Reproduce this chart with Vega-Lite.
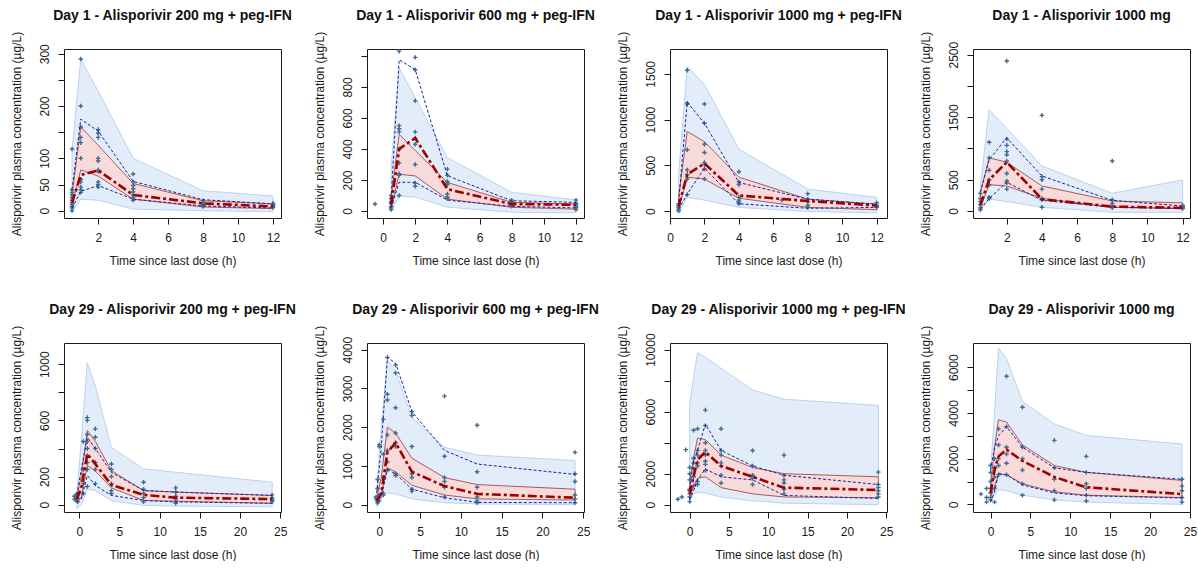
{
  "$schema": "https://vega.github.io/schema/vega-lite/v6.json",
  "padding": {"left": 9, "top": 8, "right": 0, "bottom": 0},
  "columns": 4,
  "bounds": "flush",
  "spacing": {"column": 86, "row": 125},
  "datasets": {
    "s": [
      {"p":1,"t":0.5,"lo":-2,"hi":115,"rlo":10,"rhi":30,"q5":5,"q50":15,"q95":40},
      {"p":1,"t":1,"lo":22,"hi":290,"rlo":78,"rhi":160,"q5":37,"q50":68,"q95":175},
      {"p":1,"t":2,"lo":20,"hi":228,"rlo":66,"rhi":125,"q5":48,"q50":77,"q95":152},
      {"p":1,"t":4,"lo":3,"hi":100,"rlo":22,"rhi":52,"q5":22,"q50":30,"q95":56},
      {"p":1,"t":8,"lo":0,"hi":38,"rlo":7,"rhi":19,"q5":9,"q50":14,"q95":21},
      {"p":1,"t":12,"lo":-2,"hi":28,"rlo":4,"rhi":13,"q5":5,"q50":8,"q95":13},
      {"p":2,"t":0.5,"lo":-5,"hi":280,"rlo":20,"rhi":90,"q5":20,"q50":40,"q95":80},
      {"p":2,"t":1,"lo":95,"hi":922,"rlo":237,"rhi":494,"q5":185,"q50":400,"q95":975},
      {"p":2,"t":2,"lo":90,"hi":730,"rlo":226,"rhi":391,"q5":185,"q50":470,"q95":911},
      {"p":2,"t":4,"lo":25,"hi":344,"rlo":77,"rhi":184,"q5":70,"q50":141,"q95":227},
      {"p":2,"t":8,"lo":-8,"hi":120,"rlo":24,"rhi":56,"q5":30,"q50":45,"q95":66},
      {"p":2,"t":12,"lo":-12,"hi":72,"rlo":12,"rhi":45,"q5":20,"q50":40,"q95":56},
      {"p":3,"t":0.5,"lo":-20,"hi":400,"rlo":30,"rhi":150,"q5":20,"q50":50,"q95":100},
      {"p":3,"t":1,"lo":150,"hi":1584,"rlo":370,"rhi":870,"q5":185,"q50":400,"q95":1190},
      {"p":3,"t":2,"lo":120,"hi":1384,"rlo":350,"rhi":760,"q5":470,"q50":520,"q95":960},
      {"p":3,"t":4,"lo":40,"hi":676,"rlo":140,"rhi":370,"q5":80,"q50":170,"q95":312},
      {"p":3,"t":8,"lo":-4,"hi":240,"rlo":40,"rhi":130,"q5":30,"q50":110,"q95":130},
      {"p":3,"t":12,"lo":-20,"hi":150,"rlo":15,"rhi":75,"q5":40,"q50":60,"q95":76},
      {"p":4,"t":0.5,"lo":0,"hi":400,"rlo":50,"rhi":300,"q5":30,"q50":100,"q95":300},
      {"p":4,"t":1,"lo":192,"hi":1620,"rlo":420,"rhi":850,"q5":200,"q50":500,"q95":820},
      {"p":4,"t":2,"lo":150,"hi":1322,"rlo":400,"rhi":780,"q5":460,"q50":780,"q95":1170},
      {"p":4,"t":4,"lo":60,"hi":720,"rlo":200,"rhi":400,"q5":170,"q50":190,"q95":560},
      {"p":4,"t":8,"lo":-21,"hi":283,"rlo":60,"rhi":160,"q5":60,"q50":70,"q95":170},
      {"p":4,"t":12,"lo":-20,"hi":496,"rlo":40,"rhi":130,"q5":40,"q50":50,"q95":80},
      {"p":5,"t":-0.3,"lo":-28,"hi":90,"rlo":20,"rhi":60,"q5":20,"q50":40,"q95":70},
      {"p":5,"t":0.25,"lo":0,"hi":450,"rlo":50,"rhi":200,"q5":40,"q50":120,"q95":250},
      {"p":5,"t":1,"lo":110,"hi":1010,"rlo":280,"rhi":530,"q5":208,"q50":360,"q95":480},
      {"p":5,"t":2,"lo":100,"hi":844,"rlo":240,"rhi":450,"q5":137,"q50":290,"q95":400},
      {"p":5,"t":4,"lo":30,"hi":408,"rlo":120,"rhi":243,"q5":66,"q50":140,"q95":230},
      {"p":5,"t":8,"lo":-5,"hi":255,"rlo":30,"rhi":100,"q5":30,"q50":70,"q95":101},
      {"p":5,"t":12,"lo":-10,"hi":231,"rlo":25,"rhi":90,"q5":20,"q50":50,"q95":90},
      {"p":5,"t":24,"lo":-15,"hi":160,"rlo":10,"rhi":66,"q5":10,"q50":40,"q95":66},
      {"p":6,"t":-0.3,"lo":-50,"hi":400,"rlo":50,"rhi":200,"q5":50,"q50":100,"q95":300},
      {"p":6,"t":0.25,"lo":150,"hi":2000,"rlo":300,"rhi":700,"q5":200,"q50":300,"q95":1500},
      {"p":6,"t":1,"lo":300,"hi":3740,"rlo":950,"rhi":2000,"q5":900,"q50":1350,"q95":3800},
      {"p":6,"t":2,"lo":280,"hi":3450,"rlo":850,"rhi":1850,"q5":800,"q50":1600,"q95":3650},
      {"p":6,"t":4,"lo":150,"hi":2250,"rlo":500,"rhi":1200,"q5":400,"q50":850,"q95":2400},
      {"p":6,"t":8,"lo":50,"hi":1480,"rlo":250,"rhi":700,"q5":180,"q50":480,"q95":1400},
      {"p":6,"t":12,"lo":20,"hi":1280,"rlo":150,"rhi":520,"q5":60,"q50":280,"q95":1050},
      {"p":6,"t":24,"lo":0,"hi":1140,"rlo":120,"rhi":400,"q5":50,"q50":180,"q95":780},
      {"p":7,"t":0,"lo":300,"hi":6500,"rlo":400,"rhi":1500,"q5":300,"q50":700,"q95":1000},
      {"p":7,"t":0.5,"lo":700,"hi":8200,"rlo":1200,"rhi":3000,"q5":900,"q50":1800,"q95":2800},
      {"p":7,"t":1,"lo":800,"hi":9800,"rlo":1700,"rhi":4300,"q5":1600,"q50":2900,"q95":3500},
      {"p":7,"t":2,"lo":750,"hi":9500,"rlo":1800,"rhi":4200,"q5":2300,"q50":3400,"q95":5200},
      {"p":7,"t":4,"lo":500,"hi":8800,"rlo":1100,"rhi":3200,"q5":1800,"q50":2500,"q95":3500},
      {"p":7,"t":8,"lo":250,"hi":7400,"rlo":700,"rhi":2400,"q5":1600,"q50":1800,"q95":2500},
      {"p":7,"t":12,"lo":100,"hi":6800,"rlo":500,"rhi":2000,"q5":600,"q50":1100,"q95":1900},
      {"p":7,"t":24,"lo":0,"hi":6400,"rlo":450,"rhi":1800,"q5":400,"q50":950,"q95":1300},
      {"p":8,"t":0,"lo":100,"hi":1500,"rlo":300,"rhi":800,"q5":100,"q50":500,"q95":1500},
      {"p":8,"t":0.5,"lo":400,"hi":4000,"rlo":800,"rhi":2500,"q5":550,"q50":1500,"q95":2500},
      {"p":8,"t":1,"lo":650,"hi":6830,"rlo":1300,"rhi":3700,"q5":1350,"q50":2100,"q95":3000},
      {"p":8,"t":2,"lo":600,"hi":6380,"rlo":1300,"rhi":3600,"q5":1300,"q50":2400,"q95":3400},
      {"p":8,"t":4,"lo":400,"hi":4495,"rlo":900,"rhi":2600,"q5":850,"q50":1900,"q95":2500},
      {"p":8,"t":8,"lo":200,"hi":3514,"rlo":550,"rhi":1700,"q5":500,"q50":1200,"q95":1600},
      {"p":8,"t":12,"lo":100,"hi":3017,"rlo":400,"rhi":1400,"q5":380,"q50":750,"q95":1400},
      {"p":8,"t":24,"lo":0,"hi":2640,"rlo":300,"rhi":1050,"q5":280,"q50":450,"q95":1100}
    ],
    "o": [
      {"p":1,"t":0.5,"v":0},{"p":1,"t":0.5,"v":5},{"p":1,"t":0.5,"v":8},{"p":1,"t":0.5,"v":12},{"p":1,"t":0.5,"v":15},{"p":1,"t":0.5,"v":20},{"p":1,"t":0.5,"v":25},{"p":1,"t":0.5,"v":30},{"p":1,"t":0.5,"v":35},{"p":1,"t":0.5,"v":40},{"p":1,"t":0.5,"v":118},
      {"p":1,"t":1,"v":290},{"p":1,"t":1,"v":200},{"p":1,"t":1,"v":160},{"p":1,"t":1,"v":140},{"p":1,"t":1,"v":130},{"p":1,"t":1,"v":100},{"p":1,"t":1,"v":60},{"p":1,"t":1,"v":55},{"p":1,"t":1,"v":45},{"p":1,"t":1,"v":40},{"p":1,"t":1,"v":35},
      {"p":1,"t":2,"v":155},{"p":1,"t":2,"v":148},{"p":1,"t":2,"v":140},{"p":1,"t":2,"v":100},{"p":1,"t":2,"v":95},{"p":1,"t":2,"v":78},{"p":1,"t":2,"v":75},{"p":1,"t":2,"v":55},{"p":1,"t":2,"v":50},{"p":1,"t":2,"v":45},
      {"p":1,"t":4,"v":70},{"p":1,"t":4,"v":55},{"p":1,"t":4,"v":48},{"p":1,"t":4,"v":42},{"p":1,"t":4,"v":36},{"p":1,"t":4,"v":30},{"p":1,"t":4,"v":25},{"p":1,"t":4,"v":20},
      {"p":1,"t":8,"v":19},{"p":1,"t":8,"v":15},{"p":1,"t":8,"v":12},{"p":1,"t":8,"v":10},{"p":1,"t":8,"v":8},
      {"p":1,"t":12,"v":14},{"p":1,"t":12,"v":12},{"p":1,"t":12,"v":10},{"p":1,"t":12,"v":8},{"p":1,"t":12,"v":6},
      {"p":2,"t":-0.5,"v":45},
      {"p":2,"t":0.5,"v":10},{"p":2,"t":0.5,"v":20},{"p":2,"t":0.5,"v":30},{"p":2,"t":0.5,"v":50},{"p":2,"t":0.5,"v":60},{"p":2,"t":0.5,"v":80},{"p":2,"t":0.5,"v":100},
      {"p":2,"t":1,"v":1030},{"p":2,"t":1,"v":550},{"p":2,"t":1,"v":530},{"p":2,"t":1,"v":510},{"p":2,"t":1,"v":400},{"p":2,"t":1,"v":310},{"p":2,"t":1,"v":240},{"p":2,"t":1,"v":230},{"p":2,"t":1,"v":100},
      {"p":2,"t":2,"v":990},{"p":2,"t":2,"v":910},{"p":2,"t":2,"v":710},{"p":2,"t":2,"v":510},{"p":2,"t":2,"v":470},{"p":2,"t":2,"v":430},{"p":2,"t":2,"v":300},{"p":2,"t":2,"v":180},{"p":2,"t":2,"v":160},
      {"p":2,"t":4,"v":270},{"p":2,"t":4,"v":230},{"p":2,"t":4,"v":190},{"p":2,"t":4,"v":180},{"p":2,"t":4,"v":170},{"p":2,"t":4,"v":110},{"p":2,"t":4,"v":90},{"p":2,"t":4,"v":80},
      {"p":2,"t":8,"v":70},{"p":2,"t":8,"v":60},{"p":2,"t":8,"v":50},{"p":2,"t":8,"v":40},{"p":2,"t":8,"v":35},{"p":2,"t":8,"v":30},
      {"p":2,"t":12,"v":70},{"p":2,"t":12,"v":50},{"p":2,"t":12,"v":40},{"p":2,"t":12,"v":30},{"p":2,"t":12,"v":25},{"p":2,"t":12,"v":20},{"p":2,"t":12,"v":10},
      {"p":3,"t":0.5,"v":0},{"p":3,"t":0.5,"v":20},{"p":3,"t":0.5,"v":40},{"p":3,"t":0.5,"v":60},{"p":3,"t":0.5,"v":80},
      {"p":3,"t":1,"v":1540},{"p":3,"t":1,"v":1180},{"p":3,"t":1,"v":1170},{"p":3,"t":1,"v":670},{"p":3,"t":1,"v":450},{"p":3,"t":1,"v":400},{"p":3,"t":1,"v":350},{"p":3,"t":1,"v":180},
      {"p":3,"t":2,"v":1170},{"p":3,"t":2,"v":960},{"p":3,"t":2,"v":730},{"p":3,"t":2,"v":640},{"p":3,"t":2,"v":530},{"p":3,"t":2,"v":510},{"p":3,"t":2,"v":460},{"p":3,"t":2,"v":350},
      {"p":3,"t":4,"v":430},{"p":3,"t":4,"v":320},{"p":3,"t":4,"v":290},{"p":3,"t":4,"v":150},{"p":3,"t":4,"v":120},{"p":3,"t":4,"v":100},{"p":3,"t":4,"v":80},
      {"p":3,"t":6.5,"v":120},
      {"p":3,"t":8,"v":190},{"p":3,"t":8,"v":130},{"p":3,"t":8,"v":100},{"p":3,"t":8,"v":60},{"p":3,"t":8,"v":40},
      {"p":3,"t":12,"v":90},{"p":3,"t":12,"v":60},{"p":3,"t":12,"v":50},{"p":3,"t":12,"v":40},
      {"p":4,"t":0.5,"v":20},{"p":4,"t":0.5,"v":50},{"p":4,"t":0.5,"v":100},{"p":4,"t":0.5,"v":150},{"p":4,"t":0.5,"v":200},{"p":4,"t":0.5,"v":280},
      {"p":4,"t":1,"v":1100},{"p":4,"t":1,"v":850},{"p":4,"t":1,"v":650},{"p":4,"t":1,"v":500},{"p":4,"t":1,"v":420},{"p":4,"t":1,"v":220},{"p":4,"t":1,"v":200},
      {"p":4,"t":2,"v":2400},{"p":4,"t":2,"v":1150},{"p":4,"t":2,"v":1050},{"p":4,"t":2,"v":950},{"p":4,"t":2,"v":900},{"p":4,"t":2,"v":800},{"p":4,"t":2,"v":600},{"p":4,"t":2,"v":480},{"p":4,"t":2,"v":450},{"p":4,"t":2,"v":350},
      {"p":4,"t":4,"v":1530},{"p":4,"t":4,"v":550},{"p":4,"t":4,"v":500},{"p":4,"t":4,"v":350},{"p":4,"t":4,"v":200},{"p":4,"t":4,"v":180},{"p":4,"t":4,"v":60},
      {"p":4,"t":8,"v":800},{"p":4,"t":8,"v":180},{"p":4,"t":8,"v":120},{"p":4,"t":8,"v":80},{"p":4,"t":8,"v":50},
      {"p":4,"t":12,"v":90},{"p":4,"t":12,"v":70},{"p":4,"t":12,"v":60},{"p":4,"t":12,"v":40},
      {"p":5,"t":-0.6,"v":40},{"p":5,"t":-0.6,"v":60},{"p":5,"t":-0.4,"v":30},{"p":5,"t":-0.4,"v":70},{"p":5,"t":-0.4,"v":50},{"p":5,"t":-0.2,"v":20},{"p":5,"t":-0.2,"v":80},{"p":5,"t":-0.2,"v":45},
      {"p":5,"t":0.5,"v":80},{"p":5,"t":0.5,"v":150},{"p":5,"t":0.5,"v":250},{"p":5,"t":0.5,"v":450},
      {"p":5,"t":1,"v":620},{"p":5,"t":1,"v":600},{"p":5,"t":1,"v":500},{"p":5,"t":1,"v":450},{"p":5,"t":1,"v":400},{"p":5,"t":1,"v":350},{"p":5,"t":1,"v":300},{"p":5,"t":1,"v":250},{"p":5,"t":1,"v":130},
      {"p":5,"t":2,"v":540},{"p":5,"t":2,"v":480},{"p":5,"t":2,"v":400},{"p":5,"t":2,"v":300},{"p":5,"t":2,"v":250},{"p":5,"t":2,"v":150},
      {"p":5,"t":4,"v":290},{"p":5,"t":4,"v":250},{"p":5,"t":4,"v":200},{"p":5,"t":4,"v":150},{"p":5,"t":4,"v":100},{"p":5,"t":4,"v":80},
      {"p":5,"t":8,"v":160},{"p":5,"t":8,"v":110},{"p":5,"t":8,"v":80},{"p":5,"t":8,"v":50},{"p":5,"t":8,"v":20},
      {"p":5,"t":12,"v":120},{"p":5,"t":12,"v":90},{"p":5,"t":12,"v":60},{"p":5,"t":12,"v":40},{"p":5,"t":12,"v":20},{"p":5,"t":12,"v":10},
      {"p":5,"t":24,"v":70},{"p":5,"t":24,"v":50},{"p":5,"t":24,"v":40},{"p":5,"t":24,"v":30},{"p":5,"t":24,"v":20},
      {"p":6,"t":-0.4,"v":200},{"p":6,"t":-0.4,"v":150},
      {"p":6,"t":-0.2,"v":650},{"p":6,"t":-0.2,"v":420},{"p":6,"t":-0.2,"v":100},{"p":6,"t":-0.2,"v":50},
      {"p":6,"t":0,"v":1550},{"p":6,"t":0,"v":1500},{"p":6,"t":0,"v":250},{"p":6,"t":0,"v":100},
      {"p":6,"t":0.5,"v":2200},{"p":6,"t":0.5,"v":1300},{"p":6,"t":0.5,"v":700},{"p":6,"t":0.5,"v":300},{"p":6,"t":0.5,"v":250},
      {"p":6,"t":1,"v":3800},{"p":6,"t":1,"v":2850},{"p":6,"t":1,"v":2700},{"p":6,"t":1,"v":1800},{"p":6,"t":1,"v":1400},{"p":6,"t":1,"v":1100},{"p":6,"t":1,"v":900},
      {"p":6,"t":2,"v":3600},{"p":6,"t":2,"v":3400},{"p":6,"t":2,"v":2500},{"p":6,"t":2,"v":1850},{"p":6,"t":2,"v":1600},{"p":6,"t":2,"v":1500},{"p":6,"t":2,"v":800},{"p":6,"t":2,"v":750},
      {"p":6,"t":4,"v":2400},{"p":6,"t":4,"v":2300},{"p":6,"t":4,"v":1500},{"p":6,"t":4,"v":800},{"p":6,"t":4,"v":700},{"p":6,"t":4,"v":400},{"p":6,"t":4,"v":350},
      {"p":6,"t":8,"v":2800},{"p":6,"t":8,"v":1250},{"p":6,"t":8,"v":700},{"p":6,"t":8,"v":600},{"p":6,"t":8,"v":450},{"p":6,"t":8,"v":200},
      {"p":6,"t":12,"v":2050},{"p":6,"t":12,"v":850},{"p":6,"t":12,"v":450},{"p":6,"t":12,"v":200},{"p":6,"t":12,"v":100},{"p":6,"t":12,"v":50},
      {"p":6,"t":24,"v":1350},{"p":6,"t":24,"v":800},{"p":6,"t":24,"v":600},{"p":6,"t":24,"v":250},{"p":6,"t":24,"v":150},{"p":6,"t":24,"v":50},
      {"p":7,"t":-1.5,"v":350},{"p":7,"t":-1,"v":500},{"p":7,"t":-0.5,"v":3550},
      {"p":7,"t":0,"v":200},{"p":7,"t":0,"v":500},{"p":7,"t":0,"v":700},{"p":7,"t":0,"v":900},{"p":7,"t":0,"v":1000},{"p":7,"t":0,"v":1600},{"p":7,"t":0,"v":2000},{"p":7,"t":0,"v":2400},
      {"p":7,"t":0.5,"v":4800},{"p":7,"t":0.5,"v":3000},{"p":7,"t":0.5,"v":2700},{"p":7,"t":0.5,"v":2300},{"p":7,"t":0.5,"v":1800},{"p":7,"t":0.5,"v":1200},
      {"p":7,"t":1,"v":4900},{"p":7,"t":1,"v":3500},{"p":7,"t":1,"v":3200},{"p":7,"t":1,"v":2700},{"p":7,"t":1,"v":2500},{"p":7,"t":1,"v":1500},{"p":7,"t":1,"v":1300},
      {"p":7,"t":2,"v":6100},{"p":7,"t":2,"v":5100},{"p":7,"t":2,"v":4000},{"p":7,"t":2,"v":3500},{"p":7,"t":2,"v":3200},{"p":7,"t":2,"v":2800},{"p":7,"t":2,"v":2600},{"p":7,"t":2,"v":2200},
      {"p":7,"t":4,"v":4900},{"p":7,"t":4,"v":3500},{"p":7,"t":4,"v":3200},{"p":7,"t":4,"v":2700},{"p":7,"t":4,"v":2500},{"p":7,"t":4,"v":1900},{"p":7,"t":4,"v":1400},
      {"p":7,"t":8,"v":3500},{"p":7,"t":8,"v":2500},{"p":7,"t":8,"v":1900},{"p":7,"t":8,"v":1800},{"p":7,"t":8,"v":1700},{"p":7,"t":8,"v":1300},
      {"p":7,"t":12,"v":3200},{"p":7,"t":12,"v":1900},{"p":7,"t":12,"v":1600},{"p":7,"t":12,"v":1400},{"p":7,"t":12,"v":1000},{"p":7,"t":12,"v":700},
      {"p":7,"t":24,"v":2100},{"p":7,"t":24,"v":1300},{"p":7,"t":24,"v":1100},{"p":7,"t":24,"v":900},{"p":7,"t":24,"v":700},{"p":7,"t":24,"v":500},
      {"p":8,"t":-1.2,"v":450},{"p":8,"t":-0.5,"v":300},{"p":8,"t":-0.5,"v":100},{"p":8,"t":-0.5,"v":700},
      {"p":8,"t":0,"v":1700},{"p":8,"t":0,"v":1400},{"p":8,"t":0,"v":1000},{"p":8,"t":0,"v":700},{"p":8,"t":0,"v":500},{"p":8,"t":0,"v":300},{"p":8,"t":0,"v":200},
      {"p":8,"t":0.5,"v":2000},{"p":8,"t":0.5,"v":1600},{"p":8,"t":0.5,"v":1200},{"p":8,"t":0.5,"v":700},{"p":8,"t":0.5,"v":100},
      {"p":8,"t":1,"v":3300},{"p":8,"t":1,"v":2600},{"p":8,"t":1,"v":2000},{"p":8,"t":1,"v":1700},{"p":8,"t":1,"v":1300},
      {"p":8,"t":2,"v":5600},{"p":8,"t":2,"v":3400},{"p":8,"t":2,"v":2500},{"p":8,"t":2,"v":2200},{"p":8,"t":2,"v":1800},{"p":8,"t":2,"v":1300},
      {"p":8,"t":4,"v":4250},{"p":8,"t":4,"v":2500},{"p":8,"t":4,"v":2000},{"p":8,"t":4,"v":1500},{"p":8,"t":4,"v":900},{"p":8,"t":4,"v":400},
      {"p":8,"t":8,"v":2800},{"p":8,"t":8,"v":1600},{"p":8,"t":8,"v":1100},{"p":8,"t":8,"v":600},{"p":8,"t":8,"v":200},
      {"p":8,"t":12,"v":2100},{"p":8,"t":12,"v":1400},{"p":8,"t":12,"v":900},{"p":8,"t":12,"v":700},{"p":8,"t":12,"v":400},{"p":8,"t":12,"v":150},
      {"p":8,"t":24,"v":1100},{"p":8,"t":24,"v":800},{"p":8,"t":24,"v":600},{"p":8,"t":24,"v":300},{"p":8,"t":24,"v":100}
    ]
  },
  "concat": [
    {
      "title": "Day 1 - Alisporivir 200 mg + peg-IFN",
      "width": 217, "height": 169,
      "data": {"name": "s"},
      "transform": [{"filter": "datum.p == 1"}],
      "resolve": {"axis": {"y": "independent"}},
      "encoding": {"x": {"field": "t", "type": "quantitative", "title": "Time since last dose (h)", "scale": {"domain": [0.04, 12.46], "nice": false, "zero": false}, "axis": {"values": [2, 4, 6, 8, 10, 12], "labelOverlap": false}}},
      "layer": [
        {"mark": {"type": "area", "fill": "#e3edf9", "stroke": "#b9d3f1", "strokeWidth": 1}, "encoding": {"y": {"field": "lo", "type": "quantitative", "title": "Alisporivir plasma concentration (µg/L)", "scale": {"domain": [-14, 309], "nice": false, "zero": false}, "axis": {"values": [0, 50, 100, 150, 200, 250, 300], "labelOverlap": false, "labelExpr": "indexof([150, 250], datum.value) >= 0 ? '' : datum.label"}}, "y2": {"field": "hi"}}},
        {"mark": {"type": "area", "fill": "#f8dada", "stroke": "#a65b5b", "strokeWidth": 1}, "encoding": {"y": {"field": "rlo", "type": "quantitative", "axis": null}, "y2": {"field": "rhi"}}},
        {"data": {"name": "o"}, "transform": [{"filter": "datum.p == 1"}], "mark": {"type": "point", "shape": "M-1,0L1,0M0,-1L0,1", "filled": false, "size": 20, "strokeWidth": 1.4, "color": "#3c6d8e", "opacity": 1}, "encoding": {"y": {"field": "v", "type": "quantitative", "axis": null}}},
        {"mark": {"type": "line", "color": "#1e1ea0", "strokeWidth": 1, "strokeDash": [3, 2]}, "encoding": {"y": {"field": "q95", "type": "quantitative", "axis": null}}},
        {"mark": {"type": "line", "color": "#1e1ea0", "strokeWidth": 1, "strokeDash": [3, 2]}, "encoding": {"y": {"field": "q5", "type": "quantitative", "axis": null}}},
        {"mark": {"type": "line", "color": "#9e0000", "strokeWidth": 2.6, "strokeDash": [9, 3, 3, 3]}, "encoding": {"y": {"field": "q50", "type": "quantitative", "axis": null}}}
      ]
    },
    {
      "title": "Day 1 - Alisporivir 600 mg + peg-IFN",
      "width": 217, "height": 169,
      "data": {"name": "s"},
      "transform": [{"filter": "datum.p == 2"}],
      "resolve": {"axis": {"y": "independent"}},
      "encoding": {"x": {"field": "t", "type": "quantitative", "title": "Time since last dose (h)", "scale": {"domain": [-1.0, 12.5], "nice": false, "zero": false}, "axis": {"values": [0, 2, 4, 6, 8, 10, 12], "labelOverlap": false}}},
      "layer": [
        {"mark": {"type": "area", "fill": "#e3edf9", "stroke": "#b9d3f1", "strokeWidth": 1}, "encoding": {"y": {"field": "lo", "type": "quantitative", "title": "Alisporivir plasma concentration (µg/L)", "scale": {"domain": [-45, 1044], "nice": false, "zero": false}, "axis": {"values": [0, 200, 400, 600, 800, 1000], "labelOverlap": false, "labelExpr": "indexof([1000], datum.value) >= 0 ? '' : datum.label"}}, "y2": {"field": "hi"}}},
        {"mark": {"type": "area", "fill": "#f8dada", "stroke": "#a65b5b", "strokeWidth": 1}, "encoding": {"y": {"field": "rlo", "type": "quantitative", "axis": null}, "y2": {"field": "rhi"}}},
        {"data": {"name": "o"}, "transform": [{"filter": "datum.p == 2"}], "mark": {"type": "point", "shape": "M-1,0L1,0M0,-1L0,1", "filled": false, "size": 20, "strokeWidth": 1.4, "color": "#3c6d8e", "opacity": 1}, "encoding": {"y": {"field": "v", "type": "quantitative", "axis": null}}},
        {"mark": {"type": "line", "color": "#1e1ea0", "strokeWidth": 1, "strokeDash": [3, 2]}, "encoding": {"y": {"field": "q95", "type": "quantitative", "axis": null}}},
        {"mark": {"type": "line", "color": "#1e1ea0", "strokeWidth": 1, "strokeDash": [3, 2]}, "encoding": {"y": {"field": "q5", "type": "quantitative", "axis": null}}},
        {"mark": {"type": "line", "color": "#9e0000", "strokeWidth": 2.6, "strokeDash": [9, 3, 3, 3]}, "encoding": {"y": {"field": "q50", "type": "quantitative", "axis": null}}}
      ]
    },
    {
      "title": "Day 1 - Alisporivir 1000 mg + peg-IFN",
      "width": 217, "height": 169,
      "data": {"name": "s"},
      "transform": [{"filter": "datum.p == 3"}],
      "resolve": {"axis": {"y": "independent"}},
      "encoding": {"x": {"field": "t", "type": "quantitative", "title": "Time since last dose (h)", "scale": {"domain": [0, 12.6], "nice": false, "zero": false}, "axis": {"values": [0, 2, 4, 6, 8, 10, 12], "labelOverlap": false}}},
      "layer": [
        {"mark": {"type": "area", "fill": "#e3edf9", "stroke": "#b9d3f1", "strokeWidth": 1}, "encoding": {"y": {"field": "lo", "type": "quantitative", "title": "Alisporivir plasma concentration (µg/L)", "scale": {"domain": [-76, 1772], "nice": false, "zero": false}, "axis": {"values": [0, 500, 1000, 1500], "labelOverlap": false}}, "y2": {"field": "hi"}}},
        {"mark": {"type": "area", "fill": "#f8dada", "stroke": "#a65b5b", "strokeWidth": 1}, "encoding": {"y": {"field": "rlo", "type": "quantitative", "axis": null}, "y2": {"field": "rhi"}}},
        {"data": {"name": "o"}, "transform": [{"filter": "datum.p == 3"}], "mark": {"type": "point", "shape": "M-1,0L1,0M0,-1L0,1", "filled": false, "size": 20, "strokeWidth": 1.4, "color": "#3c6d8e", "opacity": 1}, "encoding": {"y": {"field": "v", "type": "quantitative", "axis": null}}},
        {"mark": {"type": "line", "color": "#1e1ea0", "strokeWidth": 1, "strokeDash": [3, 2]}, "encoding": {"y": {"field": "q95", "type": "quantitative", "axis": null}}},
        {"mark": {"type": "line", "color": "#1e1ea0", "strokeWidth": 1, "strokeDash": [3, 2]}, "encoding": {"y": {"field": "q5", "type": "quantitative", "axis": null}}},
        {"mark": {"type": "line", "color": "#9e0000", "strokeWidth": 2.6, "strokeDash": [9, 3, 3, 3]}, "encoding": {"y": {"field": "q50", "type": "quantitative", "axis": null}}}
      ]
    },
    {
      "title": "Day 1 - Alisporivir 1000 mg",
      "width": 217, "height": 169,
      "data": {"name": "s"},
      "transform": [{"filter": "datum.p == 4"}],
      "resolve": {"axis": {"y": "independent"}},
      "encoding": {"x": {"field": "t", "type": "quantitative", "title": "Time since last dose (h)", "scale": {"domain": [0.08, 12.42], "nice": false, "zero": false}, "axis": {"values": [2, 4, 6, 8, 10, 12], "labelOverlap": false}}},
      "layer": [
        {"mark": {"type": "area", "fill": "#e3edf9", "stroke": "#b9d3f1", "strokeWidth": 1}, "encoding": {"y": {"field": "lo", "type": "quantitative", "title": "Alisporivir plasma concentration (µg/L)", "scale": {"domain": [-112, 2591], "nice": false, "zero": false}, "axis": {"values": [0, 500, 1000, 1500, 2000, 2500], "labelOverlap": false, "labelExpr": "indexof([1000, 2000], datum.value) >= 0 ? '' : datum.label"}}, "y2": {"field": "hi"}}},
        {"mark": {"type": "area", "fill": "#f8dada", "stroke": "#a65b5b", "strokeWidth": 1}, "encoding": {"y": {"field": "rlo", "type": "quantitative", "axis": null}, "y2": {"field": "rhi"}}},
        {"data": {"name": "o"}, "transform": [{"filter": "datum.p == 4"}], "mark": {"type": "point", "shape": "M-1,0L1,0M0,-1L0,1", "filled": false, "size": 20, "strokeWidth": 1.4, "color": "#3c6d8e", "opacity": 1}, "encoding": {"y": {"field": "v", "type": "quantitative", "axis": null}}},
        {"mark": {"type": "line", "color": "#1e1ea0", "strokeWidth": 1, "strokeDash": [3, 2]}, "encoding": {"y": {"field": "q95", "type": "quantitative", "axis": null}}},
        {"mark": {"type": "line", "color": "#1e1ea0", "strokeWidth": 1, "strokeDash": [3, 2]}, "encoding": {"y": {"field": "q5", "type": "quantitative", "axis": null}}},
        {"mark": {"type": "line", "color": "#9e0000", "strokeWidth": 2.6, "strokeDash": [9, 3, 3, 3]}, "encoding": {"y": {"field": "q50", "type": "quantitative", "axis": null}}}
      ]
    },
    {
      "title": "Day 29 - Alisporivir 200 mg + peg-IFN",
      "width": 217, "height": 169,
      "data": {"name": "s"},
      "transform": [{"filter": "datum.p == 5"}],
      "resolve": {"axis": {"y": "independent"}},
      "encoding": {"x": {"field": "t", "type": "quantitative", "title": "Time since last dose (h)", "scale": {"domain": [-1.9, 25.1], "nice": false, "zero": false}, "axis": {"values": [0, 5, 10, 15, 20, 25], "labelOverlap": false}}},
      "layer": [
        {"mark": {"type": "area", "fill": "#e3edf9", "stroke": "#b9d3f1", "strokeWidth": 1}, "encoding": {"y": {"field": "lo", "type": "quantitative", "title": "Alisporivir plasma concentration (µg/L)", "scale": {"domain": [-52, 1151], "nice": false, "zero": false}, "axis": {"values": [0, 200, 400, 600, 800, 1000], "labelOverlap": false, "labelExpr": "indexof([400, 800], datum.value) >= 0 ? '' : datum.label"}}, "y2": {"field": "hi"}}},
        {"mark": {"type": "area", "fill": "#f8dada", "stroke": "#a65b5b", "strokeWidth": 1}, "encoding": {"y": {"field": "rlo", "type": "quantitative", "axis": null}, "y2": {"field": "rhi"}}},
        {"data": {"name": "o"}, "transform": [{"filter": "datum.p == 5"}], "mark": {"type": "point", "shape": "M-1,0L1,0M0,-1L0,1", "filled": false, "size": 20, "strokeWidth": 1.4, "color": "#3c6d8e", "opacity": 1}, "encoding": {"y": {"field": "v", "type": "quantitative", "axis": null}}},
        {"mark": {"type": "line", "color": "#1e1ea0", "strokeWidth": 1, "strokeDash": [3, 2]}, "encoding": {"y": {"field": "q95", "type": "quantitative", "axis": null}}},
        {"mark": {"type": "line", "color": "#1e1ea0", "strokeWidth": 1, "strokeDash": [3, 2]}, "encoding": {"y": {"field": "q5", "type": "quantitative", "axis": null}}},
        {"mark": {"type": "line", "color": "#9e0000", "strokeWidth": 2.6, "strokeDash": [9, 3, 3, 3]}, "encoding": {"y": {"field": "q50", "type": "quantitative", "axis": null}}}
      ]
    },
    {
      "title": "Day 29 - Alisporivir 600 mg + peg-IFN",
      "width": 217, "height": 169,
      "data": {"name": "s"},
      "transform": [{"filter": "datum.p == 6"}],
      "resolve": {"axis": {"y": "independent"}},
      "encoding": {"x": {"field": "t", "type": "quantitative", "title": "Time since last dose (h)", "scale": {"domain": [-1.5, 25.1], "nice": false, "zero": false}, "axis": {"values": [0, 5, 10, 15, 20, 25], "labelOverlap": false}}},
      "layer": [
        {"mark": {"type": "area", "fill": "#e3edf9", "stroke": "#b9d3f1", "strokeWidth": 1}, "encoding": {"y": {"field": "lo", "type": "quantitative", "title": "Alisporivir plasma concentration (µg/L)", "scale": {"domain": [-188, 4171], "nice": false, "zero": false}, "axis": {"values": [0, 1000, 2000, 3000, 4000], "labelOverlap": false}}, "y2": {"field": "hi"}}},
        {"mark": {"type": "area", "fill": "#f8dada", "stroke": "#a65b5b", "strokeWidth": 1}, "encoding": {"y": {"field": "rlo", "type": "quantitative", "axis": null}, "y2": {"field": "rhi"}}},
        {"data": {"name": "o"}, "transform": [{"filter": "datum.p == 6"}], "mark": {"type": "point", "shape": "M-1,0L1,0M0,-1L0,1", "filled": false, "size": 20, "strokeWidth": 1.4, "color": "#3c6d8e", "opacity": 1}, "encoding": {"y": {"field": "v", "type": "quantitative", "axis": null}}},
        {"mark": {"type": "line", "color": "#1e1ea0", "strokeWidth": 1, "strokeDash": [3, 2]}, "encoding": {"y": {"field": "q95", "type": "quantitative", "axis": null}}},
        {"mark": {"type": "line", "color": "#1e1ea0", "strokeWidth": 1, "strokeDash": [3, 2]}, "encoding": {"y": {"field": "q5", "type": "quantitative", "axis": null}}},
        {"mark": {"type": "line", "color": "#9e0000", "strokeWidth": 2.6, "strokeDash": [9, 3, 3, 3]}, "encoding": {"y": {"field": "q50", "type": "quantitative", "axis": null}}}
      ]
    },
    {
      "title": "Day 29 - Alisporivir 1000 mg + peg-IFN",
      "width": 217, "height": 169,
      "data": {"name": "s"},
      "transform": [{"filter": "datum.p == 7"}],
      "resolve": {"axis": {"y": "independent"}},
      "encoding": {"x": {"field": "t", "type": "quantitative", "title": "Time since last dose (h)", "scale": {"domain": [-2.5, 25.1], "nice": false, "zero": false}, "axis": {"values": [0, 5, 10, 15, 20, 25], "labelOverlap": false}}},
      "layer": [
        {"mark": {"type": "area", "fill": "#e3edf9", "stroke": "#b9d3f1", "strokeWidth": 1}, "encoding": {"y": {"field": "lo", "type": "quantitative", "title": "Alisporivir plasma concentration (µg/L)", "scale": {"domain": [-470, 10427], "nice": false, "zero": false}, "axis": {"values": [0, 2000, 4000, 6000, 8000, 10000], "labelOverlap": false, "labelExpr": "indexof([4000, 8000], datum.value) >= 0 ? '' : datum.label"}}, "y2": {"field": "hi"}}},
        {"mark": {"type": "area", "fill": "#f8dada", "stroke": "#a65b5b", "strokeWidth": 1}, "encoding": {"y": {"field": "rlo", "type": "quantitative", "axis": null}, "y2": {"field": "rhi"}}},
        {"data": {"name": "o"}, "transform": [{"filter": "datum.p == 7"}], "mark": {"type": "point", "shape": "M-1,0L1,0M0,-1L0,1", "filled": false, "size": 20, "strokeWidth": 1.4, "color": "#3c6d8e", "opacity": 1}, "encoding": {"y": {"field": "v", "type": "quantitative", "axis": null}}},
        {"mark": {"type": "line", "color": "#1e1ea0", "strokeWidth": 1, "strokeDash": [3, 2]}, "encoding": {"y": {"field": "q95", "type": "quantitative", "axis": null}}},
        {"mark": {"type": "line", "color": "#1e1ea0", "strokeWidth": 1, "strokeDash": [3, 2]}, "encoding": {"y": {"field": "q5", "type": "quantitative", "axis": null}}},
        {"mark": {"type": "line", "color": "#9e0000", "strokeWidth": 2.6, "strokeDash": [9, 3, 3, 3]}, "encoding": {"y": {"field": "q50", "type": "quantitative", "axis": null}}}
      ]
    },
    {
      "title": "Day 29 - Alisporivir 1000 mg",
      "width": 217, "height": 169,
      "data": {"name": "s"},
      "transform": [{"filter": "datum.p == 8"}],
      "resolve": {"axis": {"y": "independent"}},
      "encoding": {"x": {"field": "t", "type": "quantitative", "title": "Time since last dose (h)", "scale": {"domain": [-2.2, 25.0], "nice": false, "zero": false}, "axis": {"values": [0, 5, 10, 15, 20, 25], "labelOverlap": false}}},
      "layer": [
        {"mark": {"type": "area", "fill": "#e3edf9", "stroke": "#b9d3f1", "strokeWidth": 1}, "encoding": {"y": {"field": "lo", "type": "quantitative", "title": "Alisporivir plasma concentration (µg/L)", "scale": {"domain": [-332, 7056], "nice": false, "zero": false}, "axis": {"values": [0, 1000, 2000, 3000, 4000, 5000, 6000], "labelOverlap": false, "labelExpr": "indexof([1000, 3000, 5000], datum.value) >= 0 ? '' : datum.label"}}, "y2": {"field": "hi"}}},
        {"mark": {"type": "area", "fill": "#f8dada", "stroke": "#a65b5b", "strokeWidth": 1}, "encoding": {"y": {"field": "rlo", "type": "quantitative", "axis": null}, "y2": {"field": "rhi"}}},
        {"data": {"name": "o"}, "transform": [{"filter": "datum.p == 8"}], "mark": {"type": "point", "shape": "M-1,0L1,0M0,-1L0,1", "filled": false, "size": 20, "strokeWidth": 1.4, "color": "#3c6d8e", "opacity": 1}, "encoding": {"y": {"field": "v", "type": "quantitative", "axis": null}}},
        {"mark": {"type": "line", "color": "#1e1ea0", "strokeWidth": 1, "strokeDash": [3, 2]}, "encoding": {"y": {"field": "q95", "type": "quantitative", "axis": null}}},
        {"mark": {"type": "line", "color": "#1e1ea0", "strokeWidth": 1, "strokeDash": [3, 2]}, "encoding": {"y": {"field": "q5", "type": "quantitative", "axis": null}}},
        {"mark": {"type": "line", "color": "#9e0000", "strokeWidth": 2.6, "strokeDash": [9, 3, 3, 3]}, "encoding": {"y": {"field": "q50", "type": "quantitative", "axis": null}}}
      ]
    }
  ],
  "config": {
    "font": "Liberation Sans",
    "numberFormat": "d",
    "view": {"stroke": "#1a1a1a", "strokeWidth": 1},
    "axis": {
      "grid": false, "domain": false, "ticks": true, "tickColor": "#1a1a1a", "tickSize": 6, "tickWidth": 1,
      "labelFont": "Liberation Sans", "labelFontSize": 12, "labelColor": "#1a1a1a", "labelOverlap": false, "labelFlush": false, "labelBound": false, "labelPadding": 8,
      "titleFont": "Liberation Sans", "titleFontSize": 12, "titleFontWeight": "normal", "titleColor": "#1a1a1a"
    },
    "axisX": {"titlePadding": 12},
    "axisY": {"labelAngle": 270, "labelAlign": "center", "labelBaseline": "bottom", "labelPadding": 7, "titlePadding": 15},
    "title": {"font": "Liberation Sans", "fontSize": 14, "fontWeight": "bold", "color": "#111111", "frame": "group", "anchor": "middle", "offset": 8}
  }
}
